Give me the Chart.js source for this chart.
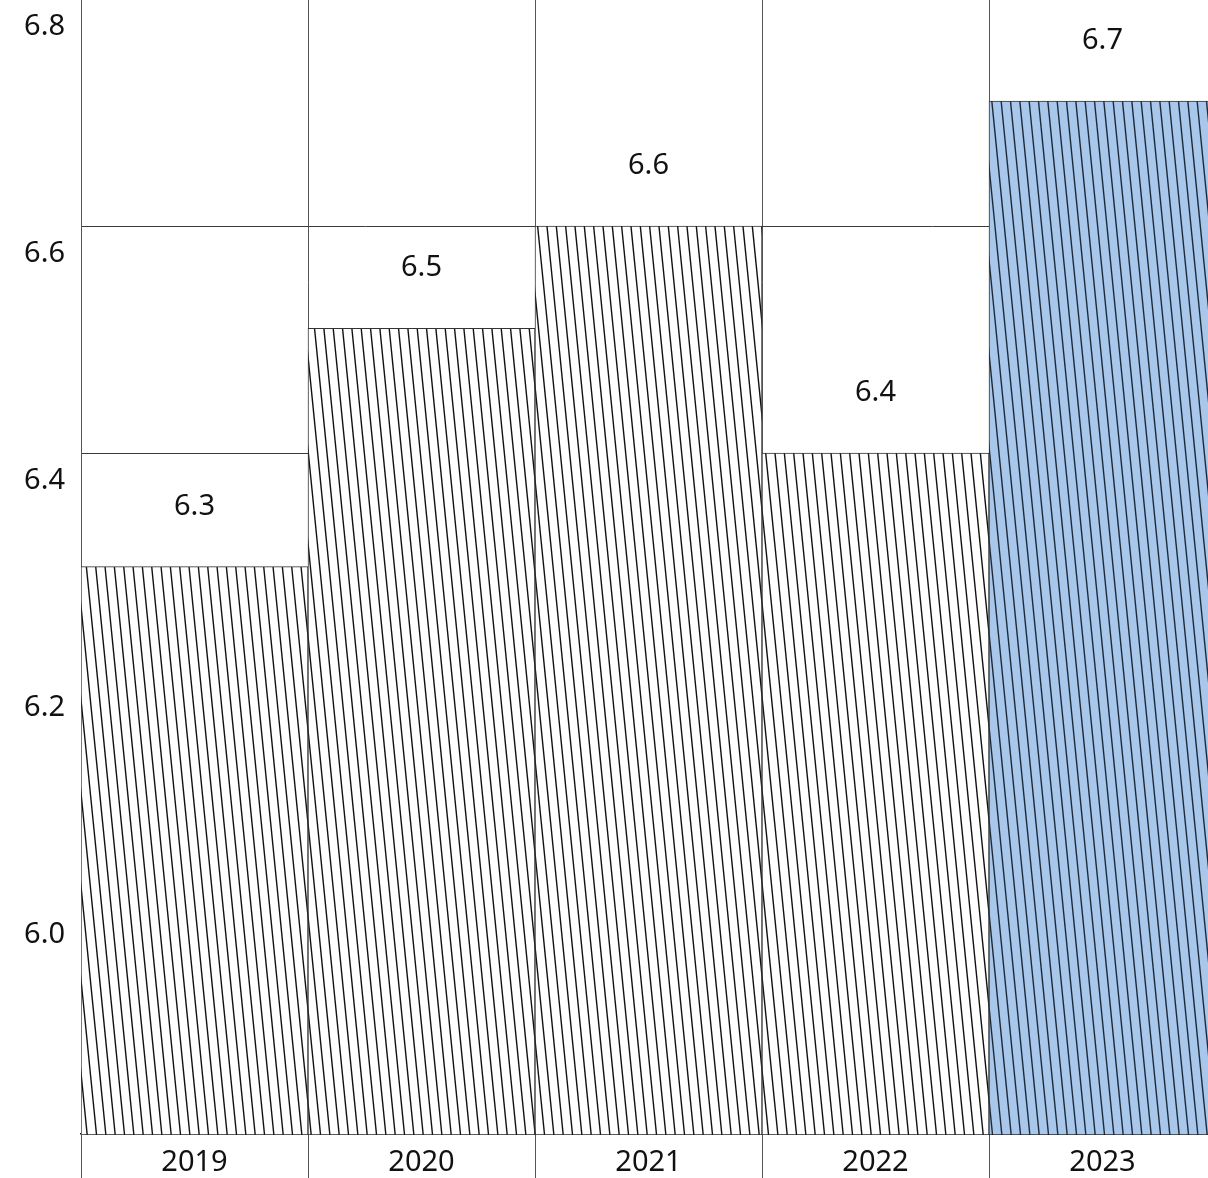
<!DOCTYPE html>
<html>
<head>
<meta charset="utf-8">
<script src="https://cdn.jsdelivr.net/npm/chart.js@4"></script>
<style>
    html, body { margin: 0; padding: 0; background: #fff; overflow: hidden; }
    .chart-box { position: relative; top: -17px; width: 1216px; height: 1202px; }
</style>
</head>
<body>
<div class="chart-box">
    <canvas id="chart1" width="1216" height="1202"></canvas>
</div>
<script>
// Data
const years = ["2019", "2020", "2021", "2022", "2023"];
const values = [6.3, 6.51, 6.6, 6.4, 6.71];
const yMin = 5.8;
const yMax = 6.8;
const yStep = 0.2;

const fontFamily = "'Noto Sans', sans-serif";

// Hatch pattern
function makeHatch(bg, lineColor) {
    const c = document.createElement("canvas");
    c.width = 28;
    c.height = 280;
    const ctx = c.getContext("2d");
    ctx.fillStyle = bg;
    ctx.fillRect(0, 0, 28, 280);
    ctx.strokeStyle = lineColor;
    ctx.lineWidth = 1.4;
    for (let k = -3; k <= 3; k++) {
        const x0 = k * 28 / 3;
        ctx.beginPath();
        ctx.moveTo(x0, 0);
        ctx.lineTo(x0 + 28, 280);
        ctx.stroke();
    }
    return ctx.createPattern(c, "repeat");
}

const hatchWhite = makeHatch("#ffffff", "#111111");
const hatchBlue = makeHatch("#a8c7eb", "#1c2a3a");

// Value labels above bars
const valueLabels = {
    id: "valueLabels",
    afterDatasetsDraw(chart) {
        const ctx = chart.ctx;
        const meta = chart.getDatasetMeta(0);
        ctx.save();
        ctx.font = `29px ${fontFamily}`;
        ctx.fillStyle = "#111";
        ctx.textAlign = "center";
        ctx.textBaseline = "middle";
        meta.data.forEach((bar, i) => {
            ctx.fillText(values[i].toFixed(1), bar.x, bar.y - 60);
        });
        ctx.restore();
    }
};

const chart1 = document.querySelector("#chart1");
if (chart1) {
    new Chart(chart1, {
        type: "bar",
        data: {
            labels: years,
            datasets: [
                {
                    data: values,
                    backgroundColor: values.map((v, i) => i === values.length - 1 ? hatchBlue : hatchWhite),
                    borderColor: "#333",
                    borderWidth: 1,
                    barPercentage: 1,
                    categoryPercentage: 1
                }
            ]
        },
        options: {
            responsive: false,
            animation: false,
            devicePixelRatio: 1,
            layout: { padding: 0 },
            plugins: {
                legend: { display: false },
                tooltip: { enabled: false }
            },
            scales: {
                x: {
                    grid: {
                        offset: true,
                        color: "#555",
                        tickColor: "#555",
                        tickLength: 45,
                        lineWidth: 1
                    },
                    border: { color: "#111", width: 1.5 },
                    ticks: {
                        color: "#111",
                        font: { family: fontFamily, size: 29 },
                        padding: -34,
                        maxRotation: 0
                    },
                    afterFit: (axis) => { axis.height = 45; }
                },
                y: {
                    min: yMin,
                    max: yMax,
                    grid: {
                        color: "#3a3a3a",
                        drawTicks: false,
                        lineWidth: 1
                    },
                    border: { color: "#555", width: 1 },
                    ticks: {
                        stepSize: yStep,
                        align: "start",
                        labelOffset: 13,
                        padding: 16,
                        color: "#111",
                        font: { family: fontFamily, size: 29 },
                        callback: (value) => value <= yMin + 0.01 ? "" : Number(value).toFixed(1)
                    },
                    afterFit: (axis) => { axis.width = 81; }
                }
            }
        },
        plugins: [valueLabels]
    });
}
</script>
</body>
</html>
